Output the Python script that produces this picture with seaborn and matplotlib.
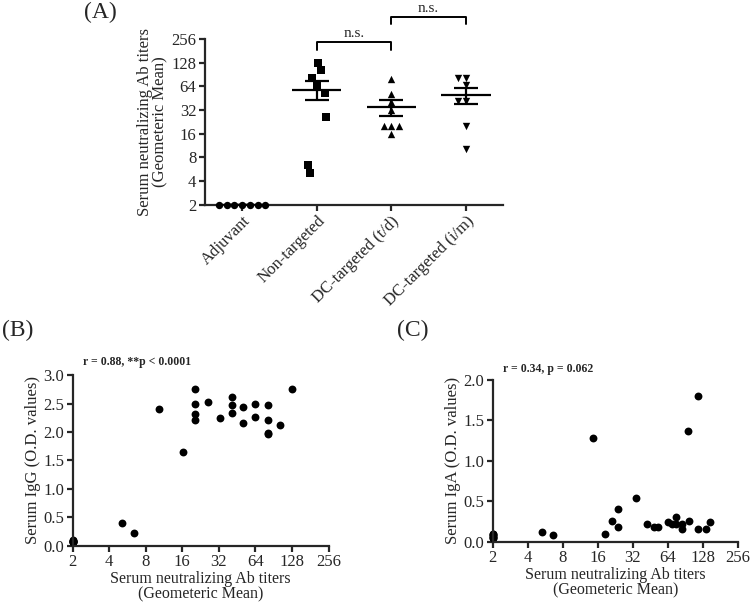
import matplotlib
matplotlib.use("Agg")
import matplotlib.pyplot as plt
import numpy as np
import pandas as pd
import seaborn as sns

# panel A: neutralizing titers per group
groups = ["Adjuvant", "Non-targeted", "DC-targeted (t/d)", "DC-targeted (i/m)"]
adjuvant_titer = [2, 2, 2, 2, 2, 2, 2]
nontargeted_titer = [128, 102, 81, 64, 52, 26, 6.4, 5.0]
dc_td_titer = [80, 51, 40, 32, 20, 20, 20, 16]
dc_im_titer = [82, 82, 66, 42, 42, 20, 10.3]
group_markers = ["o", "s", "^", "v"]

# panel B: IgG vs titer
igg_titer = [2, 2, 2, 2, 2, 2, 2, 5.1, 6.4, 10.2, 16.1, 20.4, 20.4, 20.4, 20.4,
             25.8, 32.5, 40.8, 40.8, 40.8, 51, 51, 64, 64, 81.6, 81.6, 81.6,
             81.6, 101.6, 128]
igg_od = [0.09, 0.07, 0.08, 0.06, 0.10, 0.07, 0.09, 0.40, 0.23, 2.40, 1.64,
          2.75, 2.49, 2.31, 2.21, 2.52, 2.24, 2.61, 2.47, 2.33, 2.43, 2.15,
          2.50, 2.26, 2.48, 2.21, 1.99, 1.96, 2.12, 2.75]

# panel C: IgA vs titer
iga_titer = [2, 2, 2, 2, 2, 2, 2, 5.35, 6.6, 14.5, 18.6, 21.1, 23.9, 23.9,
             34.3, 42.5, 48.9, 53, 63.6, 69, 74.5, 74.5, 85, 85, 95, 97.6,
             116, 116, 136, 148]
iga_od = [0.10, 0.08, 0.06, 0.05, 0.09, 0.07, 0.04, 0.12, 0.08, 1.28, 0.10,
          0.25, 0.40, 0.18, 0.54, 0.22, 0.18, 0.18, 0.24, 0.22, 0.31, 0.22,
          0.22, 0.16, 1.37, 0.26, 1.80, 0.16, 0.16, 0.24]

titer_ticks = [2, 4, 8, 16, 32, 64, 128, 256]

sns.set_style("ticks")
plt.rcParams["font.family"] = ["Liberation Serif", "DejaVu Serif"]
plt.rcParams["axes.linewidth"] = 1.6
plt.rcParams["xtick.major.width"] = 1.6
plt.rcParams["ytick.major.width"] = 1.6
plt.rcParams["xtick.major.size"] = 4
plt.rcParams["ytick.major.size"] = 4
plt.rcParams["xtick.major.pad"] = 2
plt.rcParams["ytick.major.pad"] = 2
plt.rcParams["xtick.labelsize"] = 12
plt.rcParams["ytick.labelsize"] = 12
plt.rcParams["axes.labelsize"] = 12

fig = plt.figure(figsize=(7.5, 6.03), dpi=100)

# ---- panel A
df = pd.DataFrame({
    "group": [groups[0]] * len(adjuvant_titer) + [groups[1]] * len(nontargeted_titer)
    + [groups[2]] * len(dc_td_titer) + [groups[3]] * len(dc_im_titer),
    "titer": adjuvant_titer + nontargeted_titer + dc_td_titer + dc_im_titer,
})

axA = fig.add_axes([0.273, 0.6605, 0.398, 0.275])
axA.set_yscale("log", base=2)
np.random.seed(3)
for g, m in zip(groups, group_markers):
    sub = df[df["group"] == g]
    if m == "s":
        # squares sit close together without touching, so swarm leaves them in a column
        sns.stripplot(data=sub, x="group", y="titer", order=groups, marker=m,
                      color="black", size=5.3, linewidth=0, jitter=0.15, ax=axA)
    else:
        sns.swarmplot(data=sub, x="group", y="titer", order=groups, marker=m,
                      color="black", size=5.3, linewidth=0, ax=axA)
for c in axA.collections:
    c.set_clip_on(False)

stats = df.groupby("group", sort=False)["titer"].agg(["mean", "sem"]).reindex(groups)
xs = np.arange(len(groups))
axA.hlines(stats["mean"], xs - 0.33, xs + 0.33, color="black", lw=1.6, zorder=3)
axA.errorbar(xs, stats["mean"], yerr=stats["sem"].fillna(0), fmt="none",
             ecolor="black", elinewidth=1.6, capsize=8.5, capthick=1.6, zorder=3)

axA.set_ylim(2, 256)
axA.set_xlim(-0.5, 3.5)
axA.set_yticks(titer_ticks)
axA.set_yticklabels([str(t) for t in titer_ticks])
axA.minorticks_off()
axA.set_xlabel("")
axA.set_ylabel("Serum neutralizing Ab titers\n(Geometeric Mean)", labelpad=2,
               linespacing=1.0)
plt.setp(axA.get_xticklabels(), rotation=45, ha="right", rotation_mode="anchor")
sns.despine(ax=axA)

# significance brackets
for (x0, x1, ytop, ybot, ytxt) in [(1, 2, 235, 185, 250), (2, 3, 490, 400, 520)]:
    axA.plot([x0, x0, x1, x1], [ybot, ytop, ytop, ybot], color="black", lw=1.4,
             clip_on=False)
    axA.text((x0 + x1) / 2, ytxt, "n.s.", ha="center", va="bottom", fontsize=11)

# ---- panel B
axB = fig.add_axes([0.097, 0.095, 0.341, 0.283])
axB.set_xscale("log", base=2)
sns.scatterplot(x=igg_titer, y=igg_od, color="black", s=32, linewidth=0,
                ax=axB, clip_on=False)
axB.set_xlim(2, 256)
axB.set_ylim(0, 3.0)
axB.set_xticks(titer_ticks)
axB.set_xticklabels([str(t) for t in titer_ticks])
axB.set_yticks(np.arange(0, 3.01, 0.5))
axB.set_yticklabels([f"{v:.1f}" for v in np.arange(0, 3.01, 0.5)])
axB.minorticks_off()
axB.set_xlabel("Serum neutralizing Ab titers\n(Geometeric Mean)", labelpad=1,
               linespacing=0.95, fontsize=11.5)
axB.set_ylabel("Serum IgG (O.D. values)", labelpad=2)
axB.text(0.04, 1.04, "r = 0.88, **p < 0.0001", transform=axB.transAxes,
         fontsize=8.5, fontweight="bold", va="bottom")
sns.despine(ax=axB)

# ---- panel C
axC = fig.add_axes([0.657, 0.1017, 0.327, 0.268])
axC.set_xscale("log", base=2)
sns.scatterplot(x=iga_titer, y=iga_od, color="black", s=32, linewidth=0,
                ax=axC, clip_on=False)
axC.set_xlim(2, 256)
axC.set_ylim(0, 2.0)
axC.set_xticks(titer_ticks)
axC.set_xticklabels([str(t) for t in titer_ticks])
axC.set_yticks(np.arange(0, 2.01, 0.5))
axC.set_yticklabels([f"{v:.1f}" for v in np.arange(0, 2.01, 0.5)])
axC.minorticks_off()
axC.set_xlabel("Serum neutralizing Ab titers\n(Geometeric Mean)", labelpad=1,
               linespacing=0.95, fontsize=11.5)
axC.set_ylabel("Serum IgA (O.D. values)", labelpad=2)
axC.text(0.04, 1.03, "r = 0.34, p = 0.062", transform=axC.transAxes,
         fontsize=8.5, fontweight="bold", va="bottom")
sns.despine(ax=axC)

# panel letters
fig.text(100 / 750, 1 - 12 / 603, "(A)", fontsize=17, ha="center", va="center")
fig.text(18 / 750, 1 - 330 / 603, "(B)", fontsize=17, ha="center", va="center")
fig.text(413 / 750, 1 - 330 / 603, "(C)", fontsize=17, ha="center", va="center")

fig.savefig("out.png", dpi=100)
